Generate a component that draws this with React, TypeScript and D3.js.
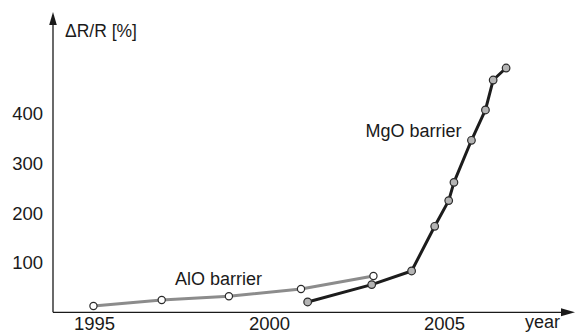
import React from "react";
import * as d3 from "d3";

const alYears = [1994.97, 1996.92, 1998.84, 2000.9, 2002.97];
const alValues = [12.7, 24.8, 32.3, 47, 73.2];
const mgYears = [2001.09, 2002.92, 2004.06, 2004.72, 2005.12, 2005.27, 2005.77, 2006.17, 2006.39, 2006.76];
const mgValues = [20.8, 55.8, 83.3, 173.4, 225.2, 262, 346.8, 407.9, 468.3, 492.5];
const xTicks = [1995, 2000, 2005];
const yTicks = [100, 200, 300, 400];

const W = 575;
const H = 334;
const FONT = "'Liberation Sans', Arial, sans-serif";

export default function App() {
  const x = d3.scaleLinear().domain([1995, 2005]).range([94.5, 444.5]);
  const y = d3.scaleLinear().domain([0, 500]).range([312.3, 64.3]);
  const axisX = 53;
  const axisY = y(0);
  const line = d3
    .line<[number, number]>()
    .x((d) => x(d[0]))
    .y((d) => y(d[1]));
  const al: [number, number][] = alYears.map((yr, i) => [yr, alValues[i]]);
  const mg: [number, number][] = mgYears.map((yr, i) => [yr, mgValues[i]]);

  return (
    <svg
      width={W}
      height={H}
      style={{ position: "absolute", left: 0, top: 0, background: "#fff" }}
      fontFamily={FONT}
    >
      {/* axes */}
      <line x1={axisX} y1={axisY} x2={axisX} y2={22} stroke="#1a1a1a" strokeWidth={1.3} />
      <path d={`M${axisX},12 L${axisX - 3.8},25 L${axisX + 3.8},25 Z`} fill="#1a1a1a" />
      <line x1={axisX} y1={axisY} x2={564} y2={axisY} stroke="#1a1a1a" strokeWidth={1.3} />
      <path d={`M575,${axisY} L561,${axisY - 4} L561,${axisY + 4} Z`} fill="#1a1a1a" />

      {yTicks.map((t) => (
        <text key={t} x={43} y={y(t) + 6.5} textAnchor="end" fontSize={18.5} fill="#1a1a1a">
          {t}
        </text>
      ))}
      {xTicks.map((t) => (
        <text key={t} x={x(t)} y={329.5} textAnchor="middle" fontSize={18.5} fill="#1a1a1a">
          {t}
        </text>
      ))}
      <text x={65} y={37} fontSize={17.5} fill="#1a1a1a">
        ΔR/R [%]
      </text>
      <text x={525} y={328} fontSize={18} fill="#1a1a1a">
        year
      </text>

      {/* AlO series */}
      <path d={line(al) || ""} fill="none" stroke="#8c8c8c" strokeWidth={3} strokeLinejoin="round" />
      {al.map((d, i) => (
        <circle key={i} cx={x(d[0])} cy={y(d[1])} r={3.6} fill="#fff" stroke="#2a2a2a" strokeWidth={1.2} />
      ))}
      <text x={175} y={285} fontSize={18} fill="#1a1a1a">
        AlO barrier
      </text>

      {/* MgO series */}
      <path d={line(mg) || ""} fill="none" stroke="#1c1c1c" strokeWidth={3} strokeLinejoin="round" />
      {mg.map((d, i) => (
        <circle key={i} cx={x(d[0])} cy={y(d[1])} r={3.8} fill="#b4b4b4" stroke="#2a2a2a" strokeWidth={1.2} />
      ))}
      <text x={365.5} y={137.3} fontSize={18} fill="#1a1a1a">
        MgO barrier
      </text>
    </svg>
  );
}
